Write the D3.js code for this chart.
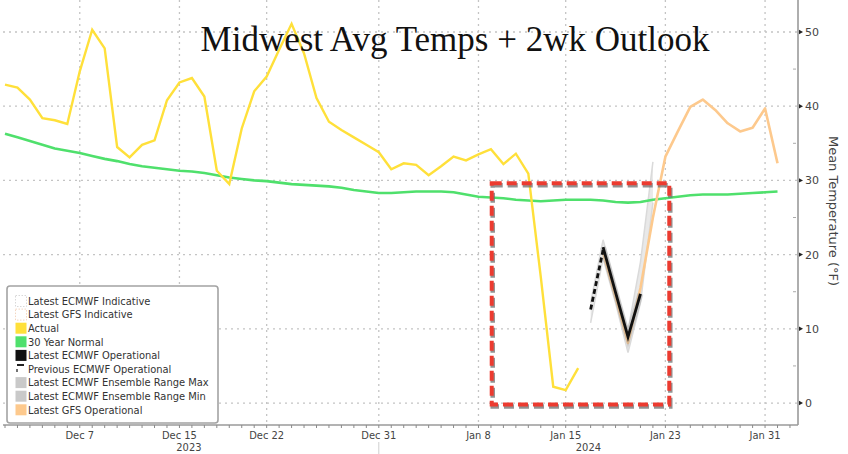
<!DOCTYPE html>
<html><head><meta charset="utf-8">
<script src="https://cdn.jsdelivr.net/npm/d3@7"></script>
<style>
html,body{margin:0;padding:0;background:#fff;}
svg{display:block;}
.cond{font-family:'DejaVu Sans Condensed','DejaVu Sans',sans-serif;font-stretch:condensed;}
</style></head>
<body>
<script>
// ---------- DATA ----------
const actualStart = "2023-12-01";
const actualValues = [42.9,42.5,40.9,38.4,38.1,37.6,44.7,50.3,47.8,34.5,33.1,34.8,35.4,40.8,43.2,43.8,41.3,31.3,29.5,37.0,
  42.0,44.0,47.6,51.1,47.1,41.1,37.9,36.8,35.8,34.8,33.8,31.5,32.3,32.1,30.7,31.9,33.2,32.7,33.5,34.2,
  32.2,33.6,30.9,17.0,2.2,1.75,4.7];
const normalStart = "2023-12-01";
const normalValues = [36.3,35.8,35.3,34.8,34.3,34.0,33.7,33.3,32.9,32.6,32.2,31.9,31.7,31.5,31.3,31.2,31.0,30.7,30.4,30.2,
  30.0,29.9,29.7,29.5,29.4,29.3,29.2,29.0,28.7,28.5,28.3,28.3,28.4,28.5,28.5,28.5,28.4,28.1,27.8,27.7,
  27.6,27.4,27.3,27.2,27.3,27.4,27.4,27.4,27.3,27.1,27.0,27.1,27.4,27.6,27.8,28.0,28.1,28.1,28.1,28.2,
  28.3,28.4,28.5];
const gfsStart = "2024-01-18";
const gfsValues = [20.3,14.3,8.1,15.5,25.0,33.2,36.6,39.9,40.9,39.5,37.7,36.6,37.1,39.7,32.3];
const ecmwfStart = "2024-01-18";
const ecmwfValues = [21.0,14.9,8.9,14.7];
const prevEcmwfStart = "2024-01-17";
const prevEcmwfValues = [12.6,20.6];
const ensStart = "2024-01-17";
const ensMax = [13.5,22.0,15.8,9.8,19.0,32.5];
const ensMin = [10.8,19.5,13.5,6.8,13.5,27.0];
const tickDates = ["2023-12-07","2023-12-15","2023-12-22","2023-12-31","2024-01-08","2024-01-15","2024-01-23","2024-01-31"];
const tickLabels = ["Dec 7","Dec 15","Dec 22","Dec 31","Jan 8","Jan 15","Jan 23","Jan 31"];
const yearLabels = ["2023","2024"];
const yearSplit = "2023-12-31";
const yTicks = [0,10,20,30,40,50];
const boxDates = ["2024-01-09T01:30:00Z","2024-01-23T07:30:00Z"];
const boxTemps = [-0.2,29.6];
const legendLabels = ["Latest ECMWF Indicative","Latest GFS Indicative","Actual","30 Year Normal","Latest ECMWF Operational",
  "Previous ECMWF Operational","Latest ECMWF Ensemble Range Max","Latest ECMWF Ensemble Range Min","Latest GFS Operational"];
const titleText = "Midwest Avg Temps + 2wk Outlook";
const yAxisTitle = "Mean Temperature (°F)";

// ---------- HELPERS ----------
const parse = s => new Date(s.length === 10 ? s + "T00:00:00Z" : s);
const series = (start, vals) => vals.map((v, i) => ({date: d3.utcDay.offset(parse(start), i), v}));

const W = 848, H = 454;
const plotL = 3, plotR = 798, plotT = 0, plotB = 425;
const dayPx = 12.46;
const d0 = parse("2023-12-01");
const x = d3.scaleUtc()
  .domain([new Date(+d0 - (5 - plotL) / dayPx * 864e5), new Date(+d0 + (plotR - 5) / dayPx * 864e5)])
  .range([plotL, plotR]);
const y = d3.scaleLinear().domain([-2.96, 54.31]).range([plotB, plotT]);

const svg = d3.select("body").append("svg").attr("width", W).attr("height", H);

// gridlines
svg.append("g").selectAll("line").data(yTicks).join("line")
  .attr("x1", plotL).attr("x2", plotR).attr("y1", d => y(d)).attr("y2", d => y(d))
  .attr("stroke", "#c4c4c4").attr("stroke-width", 1.3).attr("stroke-dasharray", "2,4");
svg.append("g").selectAll("line").data(tickDates).join("line")
  .attr("x1", d => x(parse(d))).attr("x2", d => x(parse(d))).attr("y1", plotT).attr("y2", plotB)
  .attr("stroke", "#c4c4c4").attr("stroke-width", 1.3).attr("stroke-dasharray", "2,4");

const line = d3.line().x(d => x(d.date)).y(d => y(d.v));

// ensemble band
const ens = ensMax.map((m, i) => ({date: d3.utcDay.offset(parse(ensStart), i), hi: m, lo: ensMin[i]}));
svg.append("path").datum(ens)
  .attr("d", d3.area().x(d => x(d.date)).y0(d => y(d.lo)).y1(d => y(d.hi)))
  .attr("fill", "#e4e4e4").attr("opacity", 0.8);
svg.append("path").datum(series(ensStart, ensMax)).attr("d", line)
  .attr("fill", "none").attr("stroke", "#dadada").attr("stroke-width", 1.5);
svg.append("path").datum(series(ensStart, ensMin)).attr("d", line)
  .attr("fill", "none").attr("stroke", "#dadada").attr("stroke-width", 1.5);

// normal
svg.append("path").datum(series(normalStart, normalValues)).attr("d", line)
  .attr("fill", "none").attr("stroke", "#4fe06c").attr("stroke-width", 2.6).attr("stroke-linejoin", "round");
// actual
svg.append("path").datum(series(actualStart, actualValues)).attr("d", line)
  .attr("fill", "none").attr("stroke", "#ffe03a").attr("stroke-width", 2.4).attr("stroke-linejoin", "miter");
// GFS
svg.append("path").datum(series(gfsStart, gfsValues)).attr("d", line)
  .attr("fill", "none").attr("stroke", "#fdc98d").attr("stroke-width", 2.6).attr("stroke-linejoin", "round");
// ECMWF shadow + line
svg.append("path").datum(series(ecmwfStart, ecmwfValues)).attr("d", line)
  .attr("fill", "none").attr("stroke", "#999").attr("stroke-opacity", 0.35).attr("stroke-width", 6);
svg.append("path").datum(series(ecmwfStart, ecmwfValues)).attr("d", line)
  .attr("fill", "none").attr("stroke", "#111").attr("stroke-width", 2.8);
// previous ECMWF dashed
svg.append("path").datum(series(prevEcmwfStart, prevEcmwfValues)).attr("d", line)
  .attr("fill", "none").attr("stroke", "#111").attr("stroke-width", 2.8).attr("stroke-dasharray", "5,3");

// red box annotation
const bx0 = x(parse(boxDates[0])), bx1 = x(parse(boxDates[1]));
const by0 = y(boxTemps[1]), by1 = y(boxTemps[0]);
svg.append("rect").attr("x", bx0 + 1).attr("y", by0 + 2).attr("width", bx1 - bx0).attr("height", by1 - by0)
  .attr("fill", "none").attr("stroke", "#6e6e6e").attr("stroke-opacity", 0.75).attr("stroke-width", 4.5)
  .attr("stroke-dasharray", "10,5");
svg.append("rect").attr("x", bx0).attr("y", by0).attr("width", bx1 - bx0).attr("height", by1 - by0)
  .attr("fill", "none").attr("stroke", "#ec3b30").attr("stroke-width", 4)
  .attr("stroke-dasharray", "10,5");

// axes lines
svg.append("line").attr("x1", plotL).attr("x2", plotR).attr("y1", plotB).attr("y2", plotB)
  .attr("stroke", "#9a9a9a").attr("stroke-width", 1.6);
svg.append("line").attr("x1", plotR).attr("x2", plotR).attr("y1", plotT).attr("y2", plotB)
  .attr("stroke", "#9a9a9a").attr("stroke-width", 1.6);

// bottom daily ticks
const days = d3.utcDay.range(d3.utcDay.ceil(x.domain()[0]), x.domain()[1]);
svg.append("g").selectAll("line").data(days).join("line")
  .attr("x1", d => x(d)).attr("x2", d => x(d)).attr("y1", plotB).attr("y2", plotB + 3)
  .attr("stroke", "#8a8a8a").attr("stroke-width", 1);
svg.append("g").selectAll("text").data(tickDates).join("text").attr("class", "cond")
  .attr("x", d => x(parse(d))).attr("y", 439).attr("text-anchor", "middle")
  .attr("font-size", 11).attr("fill", "#444").text((d, i) => tickLabels[i]);
// year labels
const splitX = x(parse(yearSplit));
svg.append("line").attr("x1", splitX).attr("x2", splitX).attr("y1", 442).attr("y2", 454)
  .attr("stroke", "#cfcfcf").attr("stroke-width", 1);
svg.append("g").selectAll("text").data(yearLabels).join("text").attr("class", "cond")
  .attr("x", (d, i) => i === 0 ? (plotL + splitX) / 2 - 2 : (splitX + plotR) / 2)
  .attr("y", 451).attr("text-anchor", "middle").attr("font-size", 11).attr("fill", "#444").text(d => d);

// right axis ticks
const ry = svg.append("g");
ry.selectAll("path").data(yTicks).join("path")
  .attr("d", d => `M${plotR + 1},${y(d) - 2.2}L${plotR + 5},${y(d)}L${plotR + 1},${y(d) + 2.2}Z`)
  .attr("fill", "#222");
ry.selectAll("line").data(yTicks.map(t => t + 5)).join("line")
  .attr("x1", plotR - 5).attr("x2", plotR - 2).attr("y1", d => y(d)).attr("y2", d => y(d))
  .attr("stroke", "#aaa").attr("stroke-width", 1);
ry.selectAll("text").data(yTicks).join("text")
  .attr("x", plotR + 7).attr("y", d => y(d)).attr("dy", "0.36em")
  .attr("font-family", "'DejaVu Sans',sans-serif").attr("font-size", 11).attr("fill", "#444").text(d => d);
svg.append("text").attr("transform", "translate(834,211) rotate(90)")
  .attr("text-anchor", "middle").attr("dy", "0.35em")
  .attr("font-family", "'DejaVu Sans',sans-serif").attr("font-size", 13).attr("fill", "#444").text(yAxisTitle);

// title
svg.append("text").attr("x", 455).attr("y", 51).attr("text-anchor", "middle")
  .attr("font-family", "'Liberation Serif','Times New Roman',serif").attr("font-size", 35).attr("fill", "#111")
  .text(titleText);

// legend
const lg = svg.append("g");
lg.append("rect").attr("x", 7).attr("y", 286).attr("width", 211).attr("height", 137).attr("rx", 3)
  .attr("fill", "#fff").attr("stroke", "#a3a3a3").attr("stroke-width", 1.6);
const sw = [
  {fill: "#fff", stroke: "#d8d8d8", dash: "1.5,1.5"},
  {fill: "#fff", stroke: "#f3d6c0", dash: "1.5,1.5"},
  {fill: "#ffe03a"}, {fill: "#4fe06c"}, {fill: "#111"}, {dashIcon: true},
  {fill: "#c9c9c9"}, {fill: "#c9c9c9"}, {fill: "#fdc98d"}
];
const rowY = i => 301 + i * 13.6;
legendLabels.forEach((lab, i) => {
  const cy = rowY(i), s = sw[i];
  if (s.dashIcon) {
    lg.append("line").attr("x1", 17).attr("x2", 24).attr("y1", cy - 4).attr("y2", cy - 4).attr("stroke", "#222").attr("stroke-width", 2);
    lg.append("line").attr("x1", 17).attr("x2", 17).attr("y1", cy).attr("y2", cy + 3).attr("stroke", "#444").attr("stroke-width", 1.5);
  } else {
    lg.append("rect").attr("x", 15.5).attr("y", cy - 5.5).attr("width", 11).attr("height", 11)
      .attr("fill", s.fill).attr("stroke", s.stroke || "none").attr("stroke-dasharray", s.dash || null);
  }
  lg.append("text").attr("class", "cond").attr("x", 28).attr("y", cy).attr("dy", "0.35em")
    .attr("font-size", 11).attr("fill", "#333").text(lab);
});
</script>
</body></html>
